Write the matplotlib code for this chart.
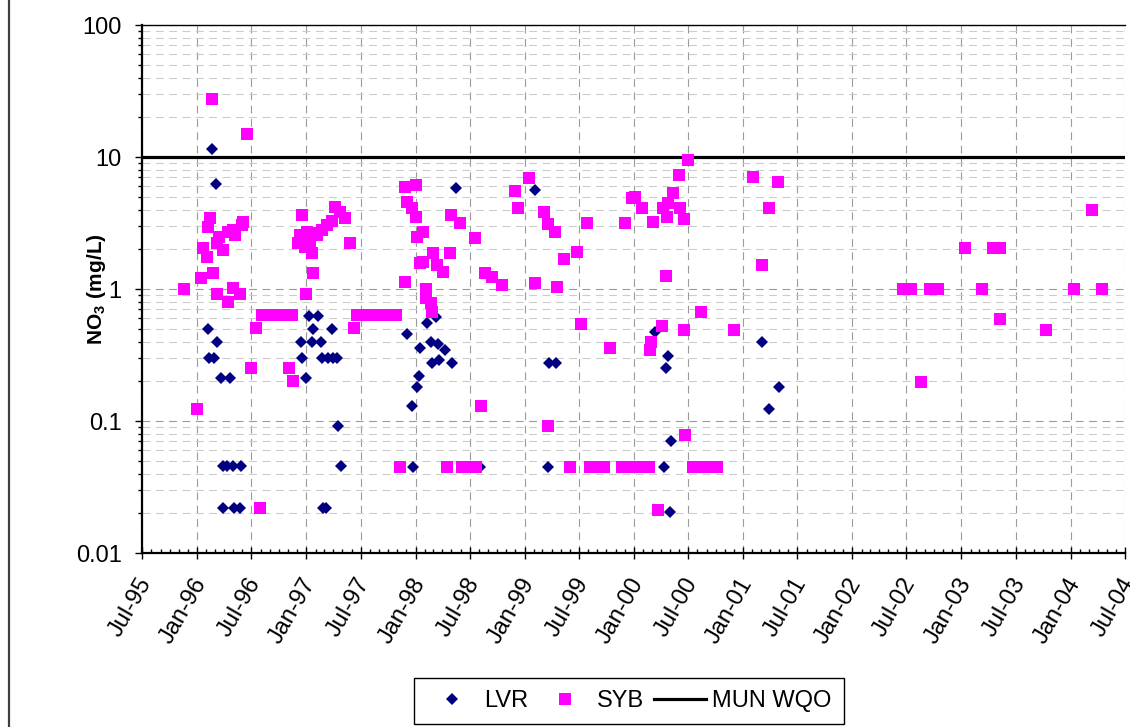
import numpy as np
import pandas as pd
import matplotlib
matplotlib.use('Agg')
import matplotlib.pyplot as plt
import matplotlib.dates as mdates
import matplotlib.ticker as mticker
import matplotlib.transforms as mtransforms
from matplotlib.lines import Line2D

# LVR samples (mg/L)
lvr_dates = ['1996-02-08', '1996-02-09', '1996-02-21', '1996-02-27', '1996-03-04', '1996-03-07',
             '1996-03-21', '1996-03-27', '1996-03-28', '1996-04-10', '1996-04-20', '1996-05-01',
             '1996-05-03', '1996-05-23', '1996-05-27', '1996-12-14', '1996-12-17', '1997-01-01',
             '1997-01-11', '1997-01-21', '1997-01-24', '1997-02-10', '1997-02-20', '1997-02-23',
             '1997-02-27', '1997-03-06', '1997-03-14', '1997-03-27', '1997-03-30', '1997-04-13',
             '1997-04-17', '1997-04-27', '1997-12-04', '1997-12-20', '1997-12-24', '1998-01-07',
             '1998-01-14', '1998-01-17', '1998-02-07', '1998-02-20', '1998-02-26', '1998-03-10',
             '1998-03-16', '1998-03-19', '1998-04-09', '1998-05-03', '1998-05-16', '1998-08-04',
             '1999-02-05', '1999-03-19', '1999-03-25', '1999-04-15', '2000-03-12', '2000-04-12',
             '2000-04-18', '2000-04-24', '2000-05-01', '2000-05-04', '2001-03-04', '2001-03-28',
             '2001-05-01']
lvr_vals = [0.50, 0.30, 11.5, 0.30, 6.25, 0.40,
            0.21, 0.046, 0.022, 0.046, 0.21, 0.046,
            0.022, 0.022, 0.046, 0.40, 0.30, 0.21,
            0.62, 0.40, 0.50, 0.62, 0.40, 0.30,
            0.022, 0.022, 0.30, 0.50, 0.30, 0.30,
            0.092, 0.046, 0.46, 0.13, 0.045, 0.18,
            0.22, 0.36, 0.55, 0.40, 0.275, 0.61,
            0.38, 0.29, 0.345, 0.275, 5.8, 0.045,
            5.6, 0.045, 0.275, 0.275, 0.47, 0.045,
            0.25, 0.31, 0.0205, 0.07, 0.40, 0.123,
            0.18]

# SYB samples (mg/L)
syb_dates = ['1995-11-19', '1996-01-02', '1996-01-15', '1996-01-21', '1996-02-04', '1996-02-08',
             '1996-02-14', '1996-02-21', '1996-02-24', '1996-03-07', '1996-03-08', '1996-03-14',
             '1996-03-27', '1996-04-13', '1996-04-14', '1996-05-01', '1996-05-02', '1996-05-07',
             '1996-05-23', '1996-05-30', '1996-06-03', '1996-06-15', '1996-06-30', '1996-07-16',
             '1996-07-29', '1996-08-06', '1996-09-02', '1996-09-29', '1996-10-25', '1996-11-05',
             '1996-11-14', '1996-11-18', '1996-12-04', '1996-12-11', '1996-12-17', '1996-12-27',
             '1997-01-01', '1997-01-04', '1997-01-14', '1997-01-21', '1997-01-22', '1997-01-24',
             '1997-02-07', '1997-02-23', '1997-03-10', '1997-03-26', '1997-04-06', '1997-04-23',
             '1997-05-09', '1997-05-26', '1997-06-09', '1997-06-19', '1997-07-15', '1997-08-12',
             '1997-09-08', '1997-10-04', '1997-10-28', '1997-11-11', '1997-11-27', '1997-11-28',
             '1997-12-04', '1997-12-20', '1998-01-01', '1998-01-02', '1998-01-07', '1998-01-17',
             '1998-01-25', '1998-01-27', '1998-02-05', '1998-02-06', '1998-02-20', '1998-02-26',
             '1998-03-01', '1998-03-13', '1998-04-03', '1998-04-16', '1998-04-26', '1998-04-29',
             '1998-05-29', '1998-06-05', '1998-07-01', '1998-07-18', '1998-07-21', '1998-08-08',
             '1998-08-21', '1998-09-14', '1998-10-17', '1998-12-01', '1998-12-10', '1999-01-16',
             '1999-02-05', '1999-03-05', '1999-03-19', '1999-03-20', '1999-04-12', '1999-04-18',
             '1999-05-12', '1999-06-01', '1999-06-24', '1999-07-07', '1999-07-27', '1999-08-07',
             '1999-09-01', '1999-09-23', '1999-10-13', '1999-11-22', '1999-12-03', '1999-12-16',
             '1999-12-25', '2000-01-05', '2000-01-09', '2000-01-29', '2000-01-31', '2000-02-22',
             '2000-02-23', '2000-02-28', '2000-03-05', '2000-03-22', '2000-04-04', '2000-04-08',
             '2000-04-18', '2000-04-21', '2000-04-24', '2000-05-11', '2000-06-01', '2000-06-03',
             '2000-06-17', '2000-06-18', '2000-06-19', '2000-07-01', '2000-07-17', '2000-08-13',
             '2000-08-14', '2000-09-09', '2000-10-06', '2000-12-02', '2001-02-04', '2001-03-04',
             '2001-03-28', '2001-04-27', '2002-06-19', '2002-07-16', '2002-08-19', '2002-09-18',
             '2002-10-15', '2003-01-13', '2003-03-10', '2003-04-16', '2003-05-09', '2003-05-10',
             '2003-10-10', '2004-01-13', '2004-03-12', '2004-04-15']
syb_vals = [1.0, 0.123, 1.21, 2.04, 1.75, 2.95,
            3.45, 27.5, 1.32, 0.92, 2.23, 2.48,
            1.97, 0.80, 2.7, 1.02, 2.8, 2.56,
            0.92, 3.05, 3.2, 14.9, 0.25, 0.51,
            0.022, 0.635, 0.635, 0.635, 0.635, 0.25,
            0.635, 0.2, 2.23, 2.56, 3.63, 2.08,
            0.92, 2.7, 2.27, 1.87, 2.65, 1.32,
            2.56, 2.8, 3.05, 3.3, 4.17, 3.83,
            3.45, 2.23, 0.51, 0.635, 0.635, 0.635,
            0.635, 0.635, 0.635, 0.045, 5.9, 1.13,
            4.56, 4.1, 6.1, 3.5, 2.48, 1.57,
            1.6, 2.7, 0.85, 1.0, 0.79, 0.67,
            1.87, 1.52, 1.35, 0.045, 1.87, 3.63,
            3.16, 0.045, 0.045, 2.43, 0.045, 0.13,
            1.32, 1.24, 1.07, 5.5, 4.1, 6.9,
            1.11, 3.83, 3.1, 0.092, 2.7, 1.04,
            1.69, 0.045, 1.9, 0.54, 3.16, 0.045,
            0.045, 0.045, 0.36, 0.045, 3.16, 0.045,
            4.9, 5.0, 0.045, 4.1, 0.045, 0.045,
            0.345, 0.40, 3.2, 0.021, 0.52, 4.1,
            1.25, 3.5, 4.5, 5.3, 7.3, 4.1,
            3.4, 0.49, 0.078, 9.5, 0.045, 0.045,
            0.67, 0.045, 0.045, 0.49, 7.05, 1.52,
            4.1, 6.45, 1.0, 1.0, 0.197, 1.0,
            1.0, 2.04, 1.0, 2.04, 2.04, 0.59,
            0.49, 1.0, 3.97, 1.0]

# water quality objective
wqo_dates = ['1995-07-01', '2004-07-01']
wqo_vals = [10, 10]

plt.rcParams['font.family'] = ['Liberation Sans', 'DejaVu Sans']
plt.rcParams['mathtext.fontset'] = 'custom'
plt.rcParams['mathtext.rm'] = 'Liberation Sans'
plt.rcParams['mathtext.bf'] = 'Liberation Sans:bold'

W, H = 1130, 727
FS = 17
fig = plt.figure(figsize=(W / 100, H / 100), dpi=100)
ax = fig.add_axes([142 / W, 1 - 553 / H, (1125 - 142) / W, (553 - 25) / H])

ax.plot(pd.to_datetime(wqo_dates), wqo_vals, color='black', lw=2.3, zorder=2)
ax.plot(pd.to_datetime(lvr_dates), lvr_vals, ls='none', marker='D', ms=6.5,
        color='#000080', mew=0, zorder=3)
ax.plot(pd.to_datetime(syb_dates), syb_vals, ls='none', marker='s', ms=9,
        color='#FF00FF', mew=0, zorder=4)

ax.set_yscale('log')
ax.set_ylim(0.01, 100)
ax.set_xlim(pd.Timestamp('1995-07-01'), pd.Timestamp('2004-07-01'))

ax.xaxis.set_major_locator(mdates.MonthLocator(bymonth=[1, 7]))
ax.xaxis.set_major_formatter(mdates.DateFormatter('%b-%y'))
ax.xaxis.set_minor_locator(mdates.MonthLocator())
ax.yaxis.set_major_locator(mticker.LogLocator(base=10, numticks=10))
ax.yaxis.set_minor_locator(mticker.LogLocator(base=10, subs=np.arange(2, 10), numticks=10))
ax.yaxis.set_major_formatter(mticker.FuncFormatter(lambda v, p: '%g' % v))
ax.yaxis.set_minor_formatter(mticker.NullFormatter())

# dashed grid like excel
ax.grid(True, which='major', axis='both', color='#9a9a9a', ls=(0, (7, 5)), lw=0.8)
ax.grid(True, which='minor', axis='y', color='#cccccc', ls=(0, (7, 5)), lw=0.8)
ax.set_axisbelow(True)

for s in ['left', 'bottom']:
    ax.spines[s].set_linewidth(1.6)
ax.spines['top'].set_linewidth(1.0)
ax.spines['right'].set_visible(False)

ax.tick_params(axis='x', which='major', direction='inout', length=9, width=1,
               labelsize=FS, pad=10.5, labelrotation=60)
ax.tick_params(axis='x', which='minor', direction='in', length=3, width=1)
ax.tick_params(axis='y', which='major', direction='out', length=5, width=1,
               labelsize=FS, pad=9.5)
ax.tick_params(axis='y', which='minor', direction='out', length=3, width=1)
shift = mtransforms.ScaledTranslation(-5 / 100, 0, fig.dpi_scale_trans)
for lab in ax.get_xticklabels():
    lab.set_ha('right')
    lab.set_va('top')
    lab.set_rotation_mode('anchor')
    lab.set_transform(lab.get_transform() + shift)

fig.text(97 / W, 1 - 289 / H, r'$\mathbf{NO_3\ (mg/L)}$', rotation=90,
         ha='center', va='center', fontsize=15)

handles = [Line2D([], [], ls='none', marker='D', ms=6.5, color='#000080', mew=0),
           Line2D([], [], ls='none', marker='s', ms=9, color='#FF00FF', mew=0),
           Line2D([], [], color='black', lw=2.3)]
leg = fig.legend(handles, ['LVR', 'SYB', 'MUN WQO'], loc='center',
                 bbox_to_anchor=(629 / W, 1 - 701 / H), ncol=3, fontsize=17,
                 frameon=True, fancybox=False, framealpha=1, edgecolor='black',
                 handlelength=2.2, handletextpad=0.25, columnspacing=0.45,
                 borderpad=0.5)
leg.get_frame().set_linewidth(1.0)

# outer chart border on the left
fig.add_artist(Line2D([9 / W, 9 / W], [0, 1], color='#404040', lw=1.6,
                      transform=fig.transFigure))

fig.savefig('out.png', dpi=100)
